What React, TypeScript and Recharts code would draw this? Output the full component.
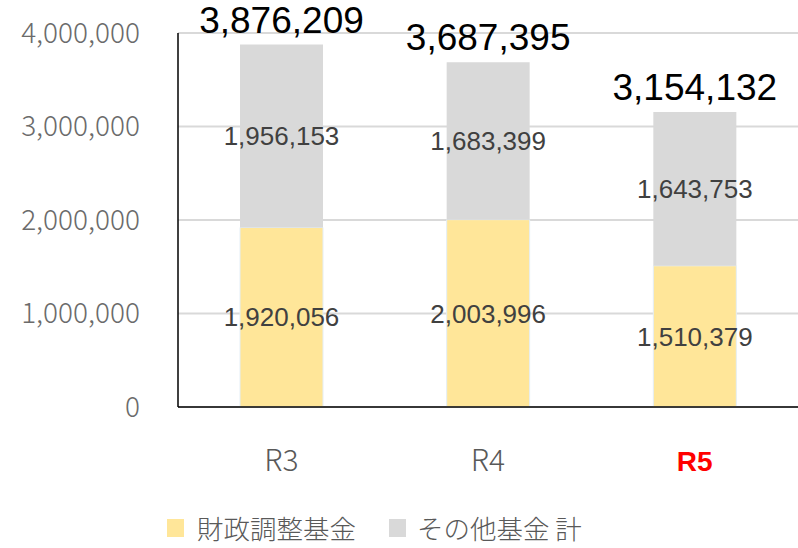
import React from 'react'
import {
  BarChart, Bar, XAxis, YAxis, CartesianGrid, Legend, LabelList
} from 'recharts'

const years = ['R3', 'R4', 'R5']
const zaiseiFund = [1920056, 2003996, 1510379]
const otherFunds = [1956153, 1683399, 1643753]
const yTicks = [0, 1000000, 2000000, 3000000, 4000000]

const data = years.map((year, i) => ({
  year,
  zaisei: zaiseiFund[i],
  other: otherFunds[i],
  total: zaiseiFund[i] + otherFunds[i],
}))

const fmt = (v: number) => v.toLocaleString('en-US')

const YEAR_FONT = '"Noto Sans CJK JP", "Noto Sans", sans-serif'
const NUM_FONT = '"Liberation Sans", Arial, sans-serif'

const XTick = (props: any) => {
  const { x, y, payload } = props
  const last = payload.value === 'R5'
  return (
    <text
      x={x}
      y={y}
      dy={28}
      textAnchor="middle"
      fontFamily={last ? NUM_FONT : YEAR_FONT}
      fontWeight={last ? 700 : 300}
      fontSize={last ? 28 : 30}
      fill={last ? '#ff0000' : '#595959'}
    >
      {payload.value}
    </text>
  )
}

const LegendBox = () => (
  <div style={{ display: 'flex', alignItems: 'center', fontFamily: YEAR_FONT, fontWeight: 300, fontSize: 26.5, lineHeight: '28px', height: 28, color: '#595959' }}>
    <span style={{ width: 17, height: 18, background: '#ffe699', marginRight: 13, display: 'inline-block' }} />
    <span>財政調整基金</span>
    <span style={{ width: 17, height: 18, background: '#d9d9d9', marginLeft: 33, marginRight: 11, display: 'inline-block' }} />
    <span>その他基金 計</span>
  </div>
)

export default function App() {
  return (
    <div style={{ position: 'absolute', left: 0, top: 0, background: '#fff' }}>
      <BarChart
        width={798}
        height={548}
        data={data}
        margin={{ top: 33, right: 0, bottom: 0, left: 0 }}
        barCategoryGap={124}
      >
        <CartesianGrid vertical={false} stroke="#d9d9d9" strokeWidth={2} />
        <XAxis
          dataKey="year"
          axisLine={{ stroke: '#000', strokeWidth: 1.5 }}
          tickLine={false}
          tick={<XTick />}
          height={113}
          tickMargin={30}
        />
        <YAxis
          domain={[0, 4000000]}
          ticks={yTicks}
          width={178}
          axisLine={{ stroke: '#000', strokeWidth: 1.5 }}
          tickLine={false}
          tickSize={0}
          tickMargin={38}
          tickFormatter={fmt}
          tick={{ fill: '#6b6b6b', fontSize: 28, fontFamily: YEAR_FONT, fontWeight: 300 }}
        />
        <Legend
          verticalAlign="bottom"
          content={<LegendBox />}
          wrapperStyle={{ left: 167, bottom: 6, width: 'auto' }}
        />
        <Bar dataKey="zaisei" stackId="a" fill="#ffe699" stroke="#e4eef6" strokeWidth={1} barSize={83} isAnimationActive={false}>
          <LabelList dataKey="zaisei" position="center" formatter={(v: any) => fmt(Number(v))} fill="#404040" fontSize={26} fontFamily={NUM_FONT} />
        </Bar>
        <Bar dataKey="other" stackId="a" fill="#d9d9d9" barSize={83} isAnimationActive={false}>
          <LabelList dataKey="other" position="center" formatter={(v: any) => fmt(Number(v))} fill="#404040" fontSize={26} fontFamily={NUM_FONT} />
          <LabelList dataKey="total" position="top" offset={12} formatter={(v: any) => fmt(Number(v))} fill="#000" fontSize={37} fontFamily={NUM_FONT} />
        </Bar>
      </BarChart>
    </div>
  )
}
